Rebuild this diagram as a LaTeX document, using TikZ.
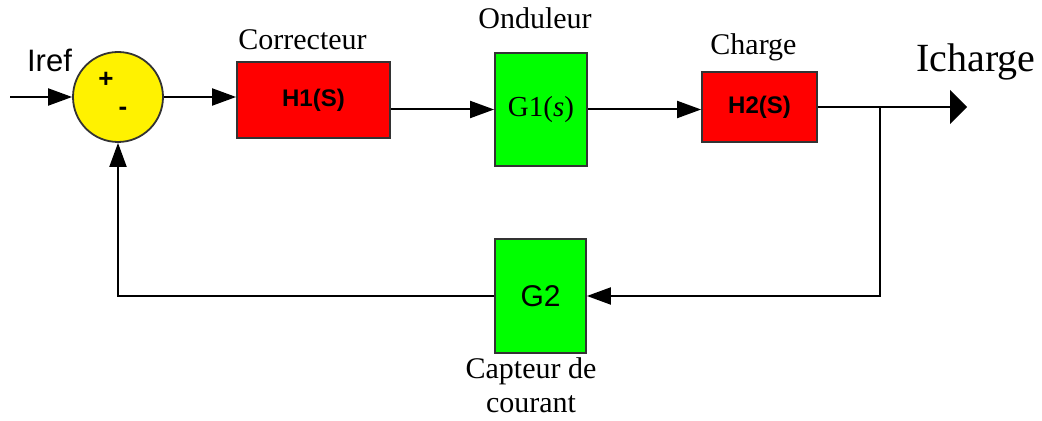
\documentclass[tikz,border=0pt]{standalone}
\usepackage{fontspec}
\setmainfont{Liberation Serif}
\setsansfont{Liberation Sans}
\usetikzlibrary{arrows.meta,positioning}

\begin{document}
\begin{tikzpicture}[x=0.5pt, y=-0.5pt,
    bloc/.style={draw=black!80, line width=0.9pt, inner sep=0pt},
    fl/.style={-{Triangle[length=12pt,width=8.5pt]}, line width=1pt},
    lbl/.style={anchor=base, font=\fontsize{15}{17}\selectfont}]
    \useasboundingbox (0,0) rectangle (1042,421);

    \node[bloc, circle, fill=yellow, minimum size=45pt] (sum) at (118,97) {};
    \node[font=\sffamily\bfseries\fontsize{13}{15}\selectfont] (plus) at (106,80) {+};
    \node[font=\sffamily\bfseries\fontsize{13}{15}\selectfont] (minus) at (123,111) {-};
    \node[bloc, fill=red, minimum width=76.5pt, minimum height=38pt,
          font=\sffamily\bfseries\fontsize{12}{14}\selectfont] (h1) at (313.5,100) {H1(S)};
    \node[bloc, fill=green, minimum width=46pt, minimum height=56.5pt,
          font=\fontsize{14.5}{16}\selectfont] (g1) at (541,109.5) {G1(\textit{s})};
    \node[bloc, fill=red, minimum width=57.5pt, minimum height=35pt,
          font=\sffamily\bfseries\fontsize{12}{14}\selectfont] (h2) at (759.5,107) {H2(S)};
    \node[bloc, fill=green, minimum width=45.5pt, minimum height=57pt,
          font=\sffamily\fontsize{15}{17}\selectfont] (g2) at (540.5,296) {G2};

    \node[anchor=base, font=\sffamily\fontsize{15.5}{17}\selectfont] (iref) at (49.5,72) {Iref};
    \node[lbl] (correcteur) at (302.5,50) {Correcteur};
    \node[lbl] (onduleur) at (535,29) {Onduleur};
    \node[lbl] (charge) at (753.5,55) {Charge};
    \node[anchor=base, font=\fontsize{20}{22}\selectfont] (icharge) at (976,72) {Icharge};
    \node[lbl, align=center] (capteur) at (531,412) {Capteur de\\courant};

    \coordinate (in) at (10,97);
    \coordinate (out) at (967,107);
    \coordinate (br) at (880,107);

    \draw[fl] (in) -- (sum);
    \draw[fl] (sum.east) -- (sum.east -| h1.west);
    \draw[fl] (g1.west -| h1.east) -- (g1.west);
    \draw[fl] (g1.east) -- (g1.east -| h2.west);
    \draw[-{Triangle[length=8.5pt,width=17pt]}, line width=1pt] (h2.east) -- (out);
    \draw[fl] (br) |- (g2.east);
    \draw[fl] (g2.west) -| (sum.south);
\end{tikzpicture}
\end{document}
